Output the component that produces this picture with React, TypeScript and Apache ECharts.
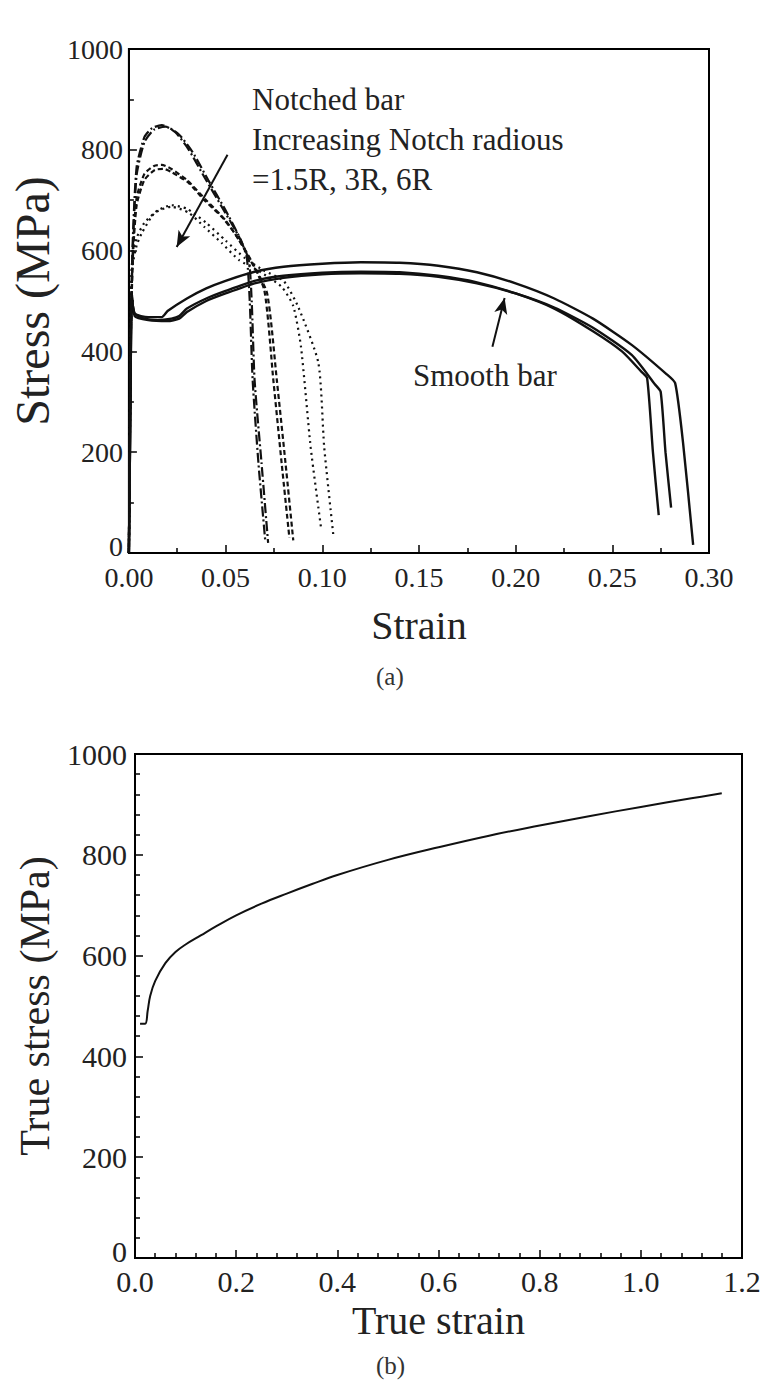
import React, { useEffect, useRef } from "react";
import * as echarts from "echarts";

// ---- Data (a): engineering stress-strain ----
const smooth1: number[][] = [[0,0],[0.0008,300],[0.0015,505],[0.003,475],[0.008,465],[0.015,462],[0.022,465],[0.026,470],[0.03,485],[0.04,505],[0.05,520],[0.065,540],[0.08,550],[0.1,556],[0.12,558],[0.14,557],[0.16,550],[0.18,537],[0.2,515],[0.22,485],[0.24,440],[0.255,400],[0.265,360],[0.268,347],[0.271,200],[0.274,75]];
const smooth2: number[][] = [[0,0],[0.0008,300],[0.0015,515],[0.003,470],[0.01,462],[0.02,460],[0.026,465],[0.03,478],[0.04,500],[0.05,515],[0.065,535],[0.08,546],[0.1,553],[0.12,555],[0.14,554],[0.16,548],[0.18,535],[0.2,515],[0.22,487],[0.24,447],[0.26,393],[0.272,335],[0.275,320],[0.2775,200],[0.2804,90]];
const smooth3: number[][] = [[0,0],[0.0008,300],[0.0015,510],[0.003,475],[0.01,468],[0.017,468],[0.02,480],[0.03,505],[0.04,525],[0.05,540],[0.065,558],[0.08,568],[0.1,574],[0.12,577],[0.14,576],[0.16,570],[0.18,557],[0.2,535],[0.22,505],[0.24,465],[0.26,413],[0.278,355],[0.2825,337],[0.2866,218],[0.2918,16]];

const notch15a: number[][] = [[0,0],[0.0008,400],[0.002,620],[0.004,766],[0.008,825],[0.012,843],[0.017,849],[0.024,835],[0.031,800],[0.039,746],[0.048,687],[0.057,627],[0.062,581],[0.0635,500],[0.065,343],[0.0686,178],[0.072,20]];
const notch15b: number[][] = [[0,0],[0.0008,380],[0.002,600],[0.004,750],[0.008,815],[0.013,840],[0.019,846],[0.026,830],[0.033,795],[0.041,740],[0.05,680],[0.058,620],[0.061,585],[0.0625,500],[0.064,343],[0.067,178],[0.0705,25]];
const notch3a: number[][] = [[0,0],[0.0008,380],[0.002,580],[0.004,690],[0.008,740],[0.0134,760],[0.018,762],[0.022,756],[0.031,734],[0.039,700],[0.048,667],[0.0546,635],[0.062,587],[0.07,522],[0.0747,343],[0.079,178],[0.083,30]];
const notch3b: number[][] = [[0,0],[0.0008,390],[0.002,600],[0.004,705],[0.008,752],[0.013,768],[0.017,770],[0.022,762],[0.03,740],[0.04,700],[0.05,660],[0.058,615],[0.064,575],[0.0715,515],[0.0765,343],[0.081,178],[0.085,25]];
const notch6a: number[][] = [[0,0],[0.0008,350],[0.0015,560],[0.004,610],[0.0067,635],[0.0134,675],[0.022,687],[0.031,675],[0.039,647],[0.048,615],[0.057,581],[0.067,560],[0.079,528],[0.085,490],[0.089,409],[0.094,210],[0.0995,46]];
const notch6b: number[][] = [[0,0],[0.0008,350],[0.0015,570],[0.004,625],[0.008,655],[0.015,680],[0.022,690],[0.03,683],[0.04,655],[0.05,620],[0.06,585],[0.07,560],[0.08,540],[0.0876,488],[0.098,377],[0.101,210],[0.1057,36]];

// annotation arrows (data coordinates of chart a)
const notchArrow: number[][] = [[0.051, 790], [0.0247, 607]];
const smoothArrow: number[][] = [[0.188, 409], [0.1943, 506]];

// ---- Data (b): true stress-strain ----
const trueCurve: number[][] = [[0.01,465],[0.02,465],[0.025,490],[0.03,520],[0.04,550],[0.06,585],[0.08,607],[0.1,622],[0.13,640],[0.16,658],[0.2,680],[0.25,703],[0.3,723],[0.35,742],[0.4,760],[0.5,790],[0.6,815],[0.7,838],[0.8,858],[0.9,877],[1.0,895],[1.1,912],[1.16,922]];

const FONT = "Liberation Serif";

function axisCommon(extra: any) {
  return {
    type: "value",
    splitLine: { show: false },
    axisLine: { show: true, onZero: false, lineStyle: { color: "#000", width: 2 } },
    axisTick: { show: true, inside: true, length: 8, lineStyle: { color: "#000", width: 1.5 } },
    nameLocation: "middle",
    ...extra,
  };
}

export default function App() {
  const ref = useRef<HTMLDivElement>(null);
  useEffect(() => {
    if (!ref.current) return;
    const chart = echarts.init(ref.current, null, { renderer: "svg" });
    const lineSeries = (name: string, data: number[][], type: any, width: number, extra: any = {}) => ({
      name,
      type: "line",
      xAxisIndex: 0,
      yAxisIndex: 0,
      data,
      showSymbol: false,
      symbol: "none",
      smooth: 0.2,
      lineStyle: { color: "#111", width, type },
      ...extra,
    });
    const arrowLine = (pts: number[][]) => ({
      silent: true,
      symbol: ["none", "arrow"],
      symbolSize: [10, 16],
      label: { show: false },
      lineStyle: { color: "#111", width: 2, type: "solid" },
      data: [[{ coord: pts[0] }, { coord: pts[1] }]],
    });
    const yFmt = (v: number) => (v === 0 ? "{z|0}" : String(v));
    const minor = (n: number) => ({ show: true, splitNumber: n, length: 5, lineStyle: { color: "#000", width: 1.5 } });
    chart.setOption({
      animation: false,
      backgroundColor: "#fff",
      grid: [
        { left: 127, top: 49, width: 582, height: 504, show: true, borderColor: "#000", borderWidth: 2, backgroundColor: "transparent" },
        { left: 135, top: 754, width: 607, height: 504, show: true, borderColor: "#000", borderWidth: 2, backgroundColor: "transparent" },
      ],
      xAxis: [
        axisCommon({
          gridIndex: 0, min: 0, max: 0.3, interval: 0.05,
          minorTick: minor(2),
          axisLabel: { color: "#222", fontFamily: FONT, fontSize: 28, margin: 10, formatter: (v: number) => v.toFixed(2) },
          name: "Strain", nameGap: 52,
          nameTextStyle: { color: "#222", fontFamily: FONT, fontSize: 40 },
        }),
        axisCommon({
          gridIndex: 1, min: 0, max: 1.2, interval: 0.2,
          minorTick: minor(5),
          axisLabel: { color: "#222", fontFamily: FONT, fontSize: 30, margin: 8, formatter: (v: number) => v.toFixed(1) },
          name: "True strain", nameGap: 42,
          nameTextStyle: { color: "#222", fontFamily: FONT, fontSize: 40 },
        }),
      ],
      yAxis: [
        axisCommon({
          gridIndex: 0, min: 0, max: 1000, interval: 200,
          minorTick: minor(2),
          axisLabel: {
            color: "#222", fontFamily: FONT, fontSize: 28, margin: 6, formatter: yFmt,
            rich: { z: { fontFamily: FONT, fontSize: 28, color: "#222", padding: [0, 0, 14, 0] } },
          },
          name: "Stress (MPa)", nameGap: 60,
          nameTextStyle: { color: "#222", fontFamily: FONT, fontSize: 48 },
        }),
        axisCommon({
          gridIndex: 1, min: 0, max: 1000, interval: 200,
          minorTick: minor(5),
          axisLabel: {
            color: "#222", fontFamily: FONT, fontSize: 30, margin: 8, formatter: yFmt,
            rich: { z: { fontFamily: FONT, fontSize: 30, color: "#222", padding: [0, 0, 14, 0] } },
          },
          name: "True stress (MPa)", nameGap: 75,
          nameTextStyle: { color: "#222", fontFamily: FONT, fontSize: 42 },
        }),
      ],
      series: [
        lineSeries("Smooth bar 1", smooth1, "solid", 2.4),
        lineSeries("Smooth bar 2", smooth2, "solid", 2.4),
        lineSeries("Smooth bar 3", smooth3, "solid", 2.4, { markLine: arrowLine(smoothArrow) }),
        lineSeries("1.5R a", notch15a, [10, 3, 2, 3], 2.2, { markLine: arrowLine(notchArrow) }),
        lineSeries("1.5R b", notch15b, [10, 3, 2, 3], 2.2),
        lineSeries("3R a", notch3a, [5, 3], 2.2),
        lineSeries("3R b", notch3b, [5, 3], 2.2),
        lineSeries("6R a", notch6a, [2, 4], 2.2),
        lineSeries("6R b", notch6b, [2, 4], 2.2),
        {
          name: "True stress", type: "line", xAxisIndex: 1, yAxisIndex: 1,
          data: trueCurve, showSymbol: false, symbol: "none", smooth: 0.4,
          lineStyle: { color: "#111", width: 2 },
        },
      ],
      graphic: [
        { type: "text", left: 252, top: 84, style: { text: "Notched bar", fontFamily: FONT, fontSize: 31, fill: "#222" } },
        { type: "text", left: 252, top: 124, style: { text: "Increasing Notch radious", fontFamily: FONT, fontSize: 31, fill: "#222" } },
        { type: "text", left: 252, top: 164, style: { text: "=1.5R, 3R, 6R", fontFamily: FONT, fontSize: 31, fill: "#222" } },
        { type: "text", left: 413, top: 360, style: { text: "Smooth bar", fontFamily: FONT, fontSize: 31, fill: "#222" } },
        { type: "text", left: 376, top: 664, style: { text: "(a)", fontFamily: FONT, fontSize: 25, fill: "#333" } },
        { type: "text", left: 376, top: 1353, style: { text: "(b)", fontFamily: FONT, fontSize: 25, fill: "#333" } },
      ],
    });
    return () => chart.dispose();
  }, []);
  return <div ref={ref} style={{ position: "absolute", left: 0, top: 0, width: 775, height: 1384 }} />;
}
